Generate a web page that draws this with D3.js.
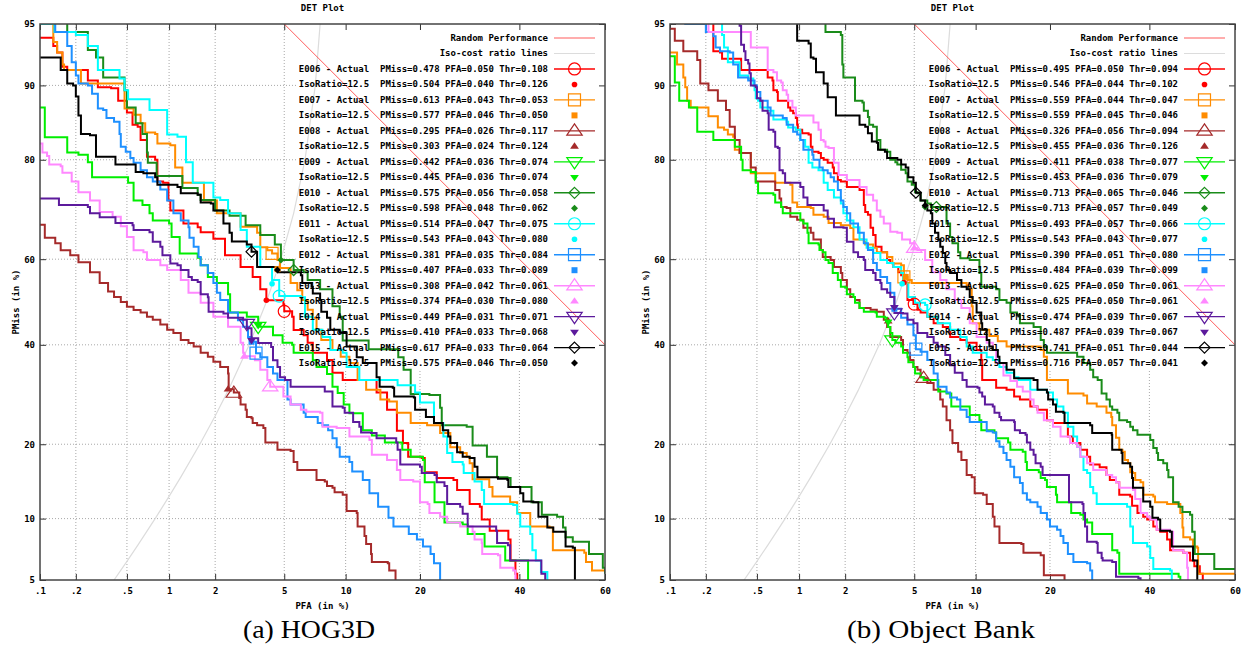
<!DOCTYPE html>
<html>
<head>
<meta charset="utf-8">
<script src="https://cdn.jsdelivr.net/npm/d3@7"></script>
<style>
  body { margin: 0; background: #fff; }
  text { white-space: pre; }
</style>
</head>
<body>
<div id="chart"></div>
<script>
// systems, colours and legend values (PMiss, PFA, Thr)
const systems = ["E006", "E007", "E008", "E009", "E010", "E011", "E012", "E013", "E014", "E015"];
const colors = ["#ff0000", "#ff8c00", "#a52a2a", "#00ee00", "#1a8c1a", "#00ffff", "#1e90ff", "#ff88ff", "#5c1a9c", "#000000"];
const shapes = ["circle", "square", "up", "down", "diamond"];

const hogActual = [[0.478, 0.050, 0.108], [0.613, 0.043, 0.053], [0.295, 0.026, 0.117], [0.442, 0.036, 0.074], [0.575, 0.056, 0.058],
  [0.514, 0.047, 0.075], [0.381, 0.035, 0.084], [0.308, 0.042, 0.061], [0.449, 0.031, 0.071], [0.617, 0.033, 0.064]];
const hogIso = [[0.504, 0.040, 0.126], [0.577, 0.046, 0.050], [0.303, 0.024, 0.124], [0.445, 0.036, 0.074], [0.598, 0.048, 0.062],
  [0.543, 0.043, 0.080], [0.407, 0.033, 0.089], [0.374, 0.030, 0.080], [0.410, 0.033, 0.068], [0.575, 0.046, 0.050]];
const obActual = [[0.495, 0.050, 0.094], [0.559, 0.044, 0.047], [0.326, 0.056, 0.094], [0.411, 0.038, 0.077], [0.713, 0.065, 0.046],
  [0.493, 0.057, 0.066], [0.390, 0.051, 0.080], [0.625, 0.050, 0.061], [0.474, 0.039, 0.067], [0.741, 0.051, 0.044]];
const obIso = [[0.546, 0.044, 0.102], [0.559, 0.045, 0.046], [0.455, 0.036, 0.126], [0.453, 0.036, 0.079], [0.713, 0.057, 0.049],
  [0.543, 0.043, 0.077], [0.484, 0.039, 0.099], [0.625, 0.050, 0.061], [0.487, 0.039, 0.067], [0.716, 0.057, 0.041]];

// axis ticks (in %)
const xTicks = [0.1, 0.2, 0.5, 1, 2, 5, 10, 20, 40, 60];
const xTickLabels = [".1", ".2", ".5", "1", "2", "5", "10", "20", "40", "60"];
const yTicks = [5, 10, 20, 40, 60, 80, 90, 95];

// reference lines [PFA %, PMiss %]
const randomLine = [[5, 95], [60, 40]];
const isoLine = [[0.4, 5], [0.5, 6.25], [0.6, 7.5], [0.8, 10], [1, 12.5], [1.2, 15], [1.6, 20], [2, 25], [2.4, 30],
  [3.2, 40], [4, 50], [4.8, 60], [5.6, 70], [6.4, 80], [7.2, 90], [7.6, 95]];

// DET curves, HOG3D: [PFA %, PMiss %]
const hogE006 = [[0.1,94.1],[0.13,94.1],[0.13,93.5],[0.14,93],[0.155,93],[0.155,91.8],[0.17,91.5],[0.25,91.5],[0.25,90.5],[0.3,90.3],[0.3,89.8],[0.38,89.7],[0.43,88.3],[0.5,86.9],[0.55,85.3],[0.6,85],[0.63,83.1],[0.7,80.5],[0.8,80],[0.83,76.2],[0.91,76],[0.99,72.6],[1.02,70.6],[1.25,67.9],[1.55,67.1],[1.62,66],[1.95,64.6],[2.3,60.9],[2.85,58.2],[3.35,55.9],[3.7,53],[4,50.4],[4.95,49.4],[5,47.8],[5.5,46.5],[5.6,43.4],[6.3,42.2],[6.6,40.5],[7,38.2],[8.2,36.6],[8.7,33.8],[9.7,32.2],[12.1,32.2],[13.6,29.6],[15,26.2],[16.4,22.3],[17.3,20.2],[18.1,18],[20.3,17.8],[20.8,15.7],[22.9,14.9],[26,14.6],[26.7,13.3],[29.2,11.6],[31.3,11.3],[31.7,9.9],[33.4,8.8],[37.5,8],[38,6.3],[39.1,5.4],[39.5,5]];
const hogE007 = [[0.13,95.5],[0.13,93.8],[0.14,93],[0.155,92],[0.16,91.5],[0.2,91.5],[0.22,90.2],[0.43,90.2],[0.48,89.5],[0.48,87.4],[0.56,86.6],[0.63,85.5],[0.68,84.2],[0.8,84],[0.83,82.6],[1.02,82.3],[1.1,78.7],[1.23,76],[1.57,76],[1.7,72.6],[1.95,72.6],[2.05,70],[2.4,70],[2.85,67.2],[3.55,65.9],[3.7,62.7],[4.05,62],[4.3,61.3],[4.6,59.8],[4.75,58],[5.4,54.5],[5.85,52.8],[6.2,50.5],[6.6,48.2],[7,46.3],[7.3,43.5],[7.7,41.1],[8.7,38.8],[9.5,37.3],[10.4,35.9],[11.3,32.2],[12.3,30.2],[14.1,28.2],[15.3,27.8],[16.4,25.6],[18.5,23.7],[21.2,23.3],[23.5,21.9],[25.4,19.5],[27.3,18.6],[28.6,18],[29.2,17],[29.8,14.7],[33.3,13.7],[34,12.5],[37.9,11.8],[39.5,10.6],[42.5,9.2],[47,9.1],[47.8,7.1],[55.2,6.9],[55.6,6.2],[57,5.6],[60,5.5]];
const hogE008 = [[0.1,67.6],[0.11,64.8],[0.135,63.6],[0.15,62],[0.18,60.9],[0.21,59.3],[0.26,57],[0.31,54.5],[0.36,52.5],[0.4,51.2],[0.45,50],[0.5,48.9],[0.56,48.1],[0.63,47.5],[0.7,46.5],[0.77,45.8],[0.87,44.7],[0.97,43.5],[1.07,42.7],[1.2,41.1],[1.35,40.4],[1.46,39.6],[1.62,38.2],[1.8,37.3],[1.95,36.2],[2.15,35],[2.4,33.6],[2.42,30.3],[2.6,29.6],[2.8,28.5],[2.85,27.2],[3.05,26.2],[3.1,24.8],[3.3,24.6],[3.35,23.7],[3.55,23.3],[3.85,22.8],[3.95,20.3],[4.45,20.3],[4.6,19.1],[5.4,18.9],[5.6,17.2],[5.85,16],[7.2,16],[7.3,14.6],[8,14.4],[8.2,13.8],[8.7,13.6],[8.9,13],[9.7,12.7],[10.1,11.6],[10.1,10.8],[11.2,10.6],[11.3,9.2],[12.1,8.3],[12.3,7.6],[12.9,6.8],[13,6.2],[15.1,6.1],[15.3,5.6],[16.2,5.4],[16.2,5]];
const hogE009 = [[0.1,87.5],[0.11,87.5],[0.11,83.5],[0.155,83.5],[0.17,81.2],[0.21,80.8],[0.25,79.6],[0.27,77],[0.4,77],[0.51,76],[0.56,72.6],[0.65,71.7],[0.73,70],[0.77,68.5],[1,67.9],[1.04,65],[1.18,61.3],[1.55,60.3],[1.62,58.6],[1.8,55.9],[2.05,54.5],[2.4,51.8],[2.47,47.5],[3.1,46.5],[3.6,44.5],[3.7,44.2],[4.35,42.2],[4.9,40.5],[5.5,40],[5.6,38.2],[7,36.5],[7.3,35],[8.2,33.5],[8.7,30.8],[9.2,29.5],[9.8,27.2],[10.4,25.5],[11.9,22.4],[13,21.5],[14.7,20.3],[17.2,19.1],[18.5,18],[20.5,17.5],[20.8,14.3],[22.5,11.8],[24.3,10.6],[24.3,9.6],[27.8,9.4],[28.8,8.5],[31.8,8.5],[32.3,7.4],[36.3,7.4],[36.8,6.3],[41.3,6.3],[42,5]];
const hogE010 = [[0.17,96],[0.17,94.5],[0.25,94.5],[0.25,93.2],[0.29,92.6],[0.33,92],[0.33,90.8],[0.44,90.8],[0.48,89.5],[0.5,87.5],[0.58,85.5],[0.65,84],[0.7,81.2],[0.71,79.5],[0.82,77.2],[1.14,77.2],[1.23,75],[1.55,73.7],[1.62,72.7],[2,70.6],[2.45,69.5],[3.05,67.5],[3.7,65.4],[4.45,63.3],[4.8,59.8],[5.6,57.5],[6.3,57],[6.6,55.2],[7.6,53],[8.7,49],[9.4,46.5],[9.7,41],[12.6,39],[16.6,37.2],[17.4,34.4],[18.5,29.3],[21.6,29.1],[23.5,26.6],[23.8,23.3],[28.6,23],[29.8,19.8],[32.8,18],[35,15],[37.3,14.9],[38,13.7],[40.7,13.7],[42.8,11.8],[45.2,10.4],[48.8,10.2],[50.2,9.1],[50.8,8.2],[52.5,7.8],[56.3,6.8],[59.5,5.8],[60,5.4]];
const hogE011 = [[0.1,95],[0.13,95],[0.133,94.5],[0.2,94.3],[0.25,93.5],[0.3,93],[0.3,91.5],[0.34,91.5],[0.44,90.7],[0.48,89.5],[0.51,88.5],[0.73,88.5],[0.73,87.2],[0.95,87.2],[0.97,83.9],[1.14,83.6],[1.3,79.6],[1.44,76],[1.8,76],[1.95,73.2],[2.15,72.7],[2.4,70],[2.85,66.5],[3.1,62.8],[3.7,58.2],[4.3,55.2],[4.7,51.4],[6.1,51.1],[6.4,46.5],[7,43.5],[7.8,41.8],[8.5,38.8],[9.7,38.2],[10.1,35],[11.5,32.2],[16.2,32.2],[16.5,31.1],[19.2,29.6],[20,27.6],[22.4,23.7],[24.1,21.3],[24.8,18.6],[25.8,17.2],[27.8,16.8],[28,15.6],[30.2,14.4],[31.7,13.3],[32.2,11.6],[38.6,11.5],[39.5,10.5],[40.2,9.2],[42.5,8.5],[43,7.1],[43.8,6.3],[45,5.5],[46.5,5]];
const hogE012 = [[0.135,96],[0.135,94.5],[0.16,94.5],[0.17,93.5],[0.185,93.4],[0.185,92.2],[0.2,91],[0.21,90.2],[0.25,90],[0.27,89.1],[0.3,87.4],[0.33,87.2],[0.35,86.2],[0.4,85.7],[0.44,84],[0.45,82.1],[0.49,81.3],[0.53,80.3],[0.56,79.5],[0.63,78.2],[0.7,77],[0.77,76.2],[0.87,74.7],[0.97,72.6],[1.07,70],[1.2,68.5],[1.35,67.1],[1.37,64.8],[1.46,62.8],[1.57,60.5],[1.62,58.6],[1.8,56.8],[1.95,54.5],[2.05,52.2],[2.15,50.5],[2.4,47.5],[2.75,45.7],[2.95,44.2],[3.15,41.8],[3.3,40.7],[3.5,38.1],[3.7,37.2],[4.05,35],[4.35,33.6],[4.6,32.2],[5.2,28.2],[5.4,27.2],[6.3,25.6],[6.45,24.8],[7.4,23.7],[7.8,23.3],[8.3,22.4],[8.7,21],[9.1,19.5],[9.4,18],[10.4,17.2],[10.7,15.8],[11.9,14.6],[12.7,12.9],[13.8,11.3],[15.2,10.1],[15.9,9.2],[18.2,8.5],[19.5,8],[20.5,7.4],[21.8,6.8],[22.4,6.1],[23.5,5]];
const hogE013 = [[0.1,82.6],[0.105,81.2],[0.115,80.6],[0.12,79.2],[0.15,78.9],[0.155,77.8],[0.185,76.2],[0.21,74.2],[0.26,72.6],[0.31,70.3],[0.38,70.3],[0.39,69.3],[0.45,67.3],[0.5,65],[0.56,62],[0.66,61.6],[0.7,59.8],[0.87,58.6],[0.97,57.5],[1.2,55.2],[1.35,52.2],[1.62,49.8],[1.95,46.5],[2.4,44.2],[2.85,40.5],[2.95,38.2],[3,37.4],[3.45,36.5],[3.7,34.4],[4.05,32.2],[4.2,30.8],[4.95,28.8],[5.4,27.2],[6.1,26.2],[6.5,25.8],[7.6,25.6],[7.8,23],[9.1,22.8],[10.4,21.3],[12.7,20.7],[13,18.3],[15,17.5],[16.4,16],[16.9,14.6],[18.9,14.4],[20,11.8],[21.3,11.6],[21.6,10.6],[23.5,10.2],[24.8,9.6],[27.3,9.2],[29.8,8.7],[30.2,8],[31.7,7.7],[31.8,6.8],[35.2,6.7],[35.7,5.8],[38.6,5.6],[39.1,5]];
const hogE014 = [[0.1,73],[0.14,73],[0.145,71.7],[0.25,71.3],[0.26,70],[0.31,69.2],[0.4,69.2],[0.41,68],[0.55,67.5],[0.56,66.5],[0.73,66],[0.77,63.9],[0.87,62.8],[0.9,60.9],[1.02,59],[1.14,58.6],[1.2,57.5],[1.35,55.9],[1.42,55.2],[1.55,54.7],[1.62,51.8],[1.8,51.1],[1.82,47.7],[2.25,47.3],[2.4,46.3],[2.95,45.8],[3.1,43.8],[3.3,41.5],[3.6,40.4],[4.25,39.5],[4.35,36.5],[4.6,35],[4.75,32.8],[5.05,32.2],[5.4,30.8],[7.8,30.8],[8,29.8],[8.7,26.8],[9.7,26.6],[9.9,25.6],[10.8,23.9],[11.5,23],[11.7,22],[12.9,21.9],[13.6,21],[16.3,20.3],[16.5,19.1],[16.9,16.8],[20,16.5],[20.3,15.6],[22.5,15.3],[22.9,14.3],[24.3,13.8],[24.8,11.6],[27.3,11.3],[27.8,10.5],[28.8,9.2],[34.8,8.8],[35,7.7],[37.4,7.5],[37.9,6.3],[44.6,6.3],[45.1,5.4],[46,5]];
const hogE015 = [[0.1,92.6],[0.145,92.6],[0.15,91.5],[0.17,90.2],[0.19,90],[0.2,88.8],[0.21,86.5],[0.22,84],[0.26,83.8],[0.29,81.6],[0.29,80.5],[0.41,80.3],[0.41,79.2],[0.58,79.2],[0.58,77.9],[0.66,77.7],[0.8,77],[0.83,75.6],[1.14,75.2],[1.2,74],[1.55,73.7],[1.62,72.2],[1.88,72],[1.95,70.6],[2.25,67.9],[2.45,65.9],[2.53,64],[3.1,63.3],[3.3,61.7],[3.55,58.2],[4.6,58],[4.65,57],[6.1,56.3],[6.2,54.5],[6.9,53.6],[7,52],[7.6,50.5],[7.7,47.7],[8.2,46.3],[8.5,43.5],[9.4,42.8],[10.1,39.6],[11.2,37.2],[11.9,35.9],[12.7,35.9],[13.6,32.8],[14,30.8],[15.8,30.6],[16,28.8],[19,28.6],[19.2,26.2],[21,24.8],[22.4,23.7],[24,22.4],[25,21.3],[25.4,20.2],[26.7,18.7],[27.8,18],[29.2,17.8],[30.2,16.5],[30.8,15],[35.2,14.8],[37.3,14.6],[37.5,13.7],[40.2,12.9],[40.9,11.9],[43.2,11.8],[44.4,10.2],[46.5,9.1],[47.9,8.7],[50.8,7.4],[52.5,7.3],[53,5]];

// DET curves, Object Bank: [PFA %, PMiss %]
const obE006 = [[0.22,96],[0.23,93.1],[0.26,93],[0.27,92.5],[0.37,92.5],[0.38,91.5],[0.58,91.5],[0.6,90.8],[0.65,90.5],[0.66,89.5],[0.7,89.3],[0.71,88.3],[0.84,87.5],[0.87,87.1],[0.91,86.8],[0.95,86.2],[0.97,85.3],[0.98,84.6],[1.05,84.1],[1.16,83.9],[1.2,82.1],[1.23,81.3],[1.35,81.1],[1.4,80.3],[1.46,80],[1.55,79.5],[1.67,78.7],[1.7,77.7],[1.8,76.5],[1.88,76.2],[2.05,75.2],[2.45,74.6],[2.6,71.7],[2.65,70.3],[2.75,69.7],[2.85,67],[2.95,65.4],[3.05,62.8],[3.3,61.6],[3.55,59.8],[3.7,59.1],[3.85,58.2],[4.1,57],[4.25,56.3],[4.4,54.6],[4.6,53],[4.6,50.5],[4.95,49.5],[5.2,48.2],[5.4,47.5],[5.85,46.5],[6.3,45],[7,44.1],[7.6,41.8],[8.5,41.1],[9.1,40.5],[10.1,38.8],[10.6,36.6],[10.7,32.2],[12.3,30.6],[13.6,30.2],[14.6,28.8],[15.4,28.2],[16.9,26.8],[18,26.2],[19.5,24.2],[20.5,23.7],[23.1,21.3],[24,20.2],[25.4,19.1],[26.7,18],[27.3,16.8],[29.2,16.4],[30.6,15.3],[31.3,14.6],[32.6,14.3],[33.3,12.7],[35.7,12.5],[36.1,11.4],[37.3,10.6],[38.6,10.2],[39.5,9.9],[40.9,9.2],[41.7,8.9],[42.5,8.7],[44.1,8],[44.8,7.1],[47.9,6.9],[49.5,6.3],[50.5,5.9],[51.8,5.4],[52.5,5]];
const obE007 = [[0.1,93],[0.115,93],[0.115,92],[0.13,91.8],[0.13,90.8],[0.135,89.8],[0.14,88.3],[0.15,87.5],[0.21,87.5],[0.21,86.4],[0.25,86.2],[0.25,84.9],[0.28,84.6],[0.3,83.9],[0.33,83.6],[0.34,81.6],[0.37,81.1],[0.44,81.1],[0.45,77.7],[0.66,77.7],[0.68,76],[0.87,75.6],[0.9,74],[0.9,72.2],[0.97,71.3],[1.2,71.1],[1.25,69.7],[1.46,69.3],[1.57,68],[1.88,67.5],[2.15,66.9],[2.25,64.4],[2.6,63.9],[2.65,63.3],[2.95,62.6],[3.1,61.6],[3.55,60.5],[3.8,59],[4.25,58.6],[4.4,55.9],[4.6,55.2],[4.85,54.5],[9.1,54],[9.4,53],[9.6,49],[9.7,45],[10.1,45],[10.4,43.5],[11.5,42],[12.5,40.8],[13.6,39.6],[14.6,39.6],[18.5,38.8],[19,37.3],[19.5,32.2],[22.2,32.2],[23.1,29.4],[26,29],[26.7,27.4],[28.6,26.8],[30.6,25.6],[31.6,24.8],[31.8,23.3],[32.6,21.1],[33.3,19.1],[34,18.8],[34.5,17.5],[35.2,17],[35.7,15.7],[36.3,15.6],[36.8,14.6],[38,14.3],[38.6,12.7],[40.9,12.5],[41.3,11.8],[44.1,11.6],[47.2,10.6],[47.7,9.1],[47.9,8.2],[49.5,8],[50.2,7.4],[51.2,7.3],[51.4,5.4],[60,5.4]];
const obE008 = [[0.1,94.7],[0.11,94.7],[0.11,93.9],[0.13,93.9],[0.13,93.1],[0.165,93.1],[0.17,92.4],[0.18,92.4],[0.18,90.2],[0.21,90.2],[0.21,89.5],[0.25,89.3],[0.25,88.3],[0.29,88],[0.29,87.2],[0.31,85],[0.33,85],[0.34,83.1],[0.37,81.1],[0.44,81.1],[0.45,78.7],[0.49,76.2],[0.66,76.2],[0.68,74.6],[0.73,73],[0.75,71.3],[0.82,71.1],[0.87,69.3],[0.97,68.7],[1.07,67],[1.2,65.9],[1.25,64.4],[1.4,62.1],[1.44,60.5],[1.62,59.8],[1.7,58.2],[1.88,56.8],[1.92,55.2],[2.05,53],[2.15,51.2],[2.3,50.5],[2.45,48.6],[2.85,48.2],[3.1,47.7],[3.4,45.8],[3.55,44.1],[3.7,41.8],[4.25,41.1],[4.35,38.8],[4.6,38.2],[4.75,36.6],[4.95,35],[5.2,34.4],[5.4,32.8],[5.65,32.6],[5.85,31.6],[6.3,30.2],[6.8,28.2],[7,26.8],[7.3,24.2],[7.6,22.4],[7.8,20.2],[8.3,18.8],[8.6,17.5],[9.1,15.3],[9.6,15],[9.9,12.9],[10.8,12.7],[11.2,11.6],[11.9,10.2],[12.1,9.2],[12.7,7.7],[15.6,7.6],[15.9,6.9],[18.5,6.7],[19,5.3],[22.5,5.2],[22.5,5]];
const obE009 = [[0.1,92.7],[0.105,92.7],[0.11,90.3],[0.12,89.5],[0.12,88.3],[0.14,88.3],[0.145,87.5],[0.17,87.4],[0.17,84.3],[0.22,84.3],[0.23,83.1],[0.33,83.1],[0.34,82.1],[0.38,80],[0.39,78.2],[0.45,77.9],[0.49,76],[0.51,74],[0.66,73.7],[0.68,72.2],[0.75,71.3],[0.77,70],[0.97,70],[1.02,68.5],[1.07,67.9],[1.14,65.9],[1.16,63.6],[1.35,63.3],[1.37,62.1],[1.44,61.6],[1.5,59.8],[1.57,59.1],[1.67,56.8],[1.8,55.2],[1.88,53.6],[2,53.4],[2.05,51.8],[2.25,51.2],[2.3,49.8],[2.45,48.6],[2.6,47.7],[3.05,47.5],[3.1,46.5],[3.45,46.3],[3.55,45.3],[3.6,44.1],[3.7,42.7],[3.8,41.1],[3.95,40.5],[4.25,39.6],[4.35,38.2],[4.6,37.2],[4.65,36.1],[4.95,35],[5.05,33.6],[5.4,32.8],[5.6,32.2],[6.4,32.2],[6.65,29.8],[7.3,29.4],[7.7,26.8],[9.1,26.8],[9.4,25.2],[10.4,24.2],[10.6,22.4],[12.1,22],[12.3,21],[13.8,20.3],[14.1,19.1],[15.8,18.8],[16.2,17.2],[16.4,16],[18.2,15.7],[18.5,14.9],[19.2,14.6],[19.5,13.7],[21,12.7],[21.2,11.8],[23.3,11.8],[23.7,10.6],[25.4,10.4],[26,9.9],[26.7,9.6],[27.7,8.5],[31.7,8.5],[31.8,7.1],[32.9,6.9],[33.3,5.4],[46.8,5.2],[47.2,5]];
const obE010 = [[1.5,96],[1.5,94.5],[1.88,94.3],[1.92,92],[1.95,90.8],[2.2,90.8],[2.3,88.3],[2.55,88.1],[2.6,87.1],[2.75,86.3],[2.8,85.3],[2.95,85],[3.1,83.1],[3.25,81.6],[3.55,81.3],[3.7,80],[3.95,79.6],[4.05,79.2],[4.25,78.3],[4.5,77.7],[4.6,76.2],[4.85,75.6],[5.05,74.2],[5.2,74],[5.4,72.6],[5.85,72],[6.1,71.3],[6.6,71.3],[7.3,67.9],[7.6,65],[7.8,63.6],[8.3,61.6],[8.5,60.2],[9.4,59.8],[10.4,56.8],[10.6,53.6],[12.3,53],[12.7,50.5],[13.6,49.8],[14.1,47.5],[15,47],[15.4,45],[17.4,44.1],[18.5,41.1],[19,39.6],[19.5,38.2],[24.8,37.3],[26,35.9],[27.3,34.4],[27.9,32.8],[28.8,32.2],[29.6,29.4],[30.6,28.2],[31.3,26.8],[31.8,26.2],[32.9,25.6],[33.3,24.2],[35,23.9],[35.7,23],[36.3,22.4],[37.3,21.6],[40.2,20.7],[40.9,19.4],[41.7,18.6],[42,17.5],[43.2,17],[44.1,16],[44.4,15],[45.5,14.2],[45.5,11.8],[46.8,11.3],[47.7,10.7],[49.5,10.4],[50,8.7],[50.6,6.8],[54.8,6.8],[55.2,5.7],[60,5.7]];
const obE011 = [[0.27,96],[0.27,94.3],[0.28,93.4],[0.3,92.2],[0.34,92.2],[0.37,91],[0.43,90.7],[0.47,90],[0.48,89.5],[0.49,88.6],[0.51,88.3],[0.53,87.5],[0.6,87.1],[0.66,86],[0.82,85.7],[0.84,84.9],[0.95,84.6],[1.02,83.1],[1.1,82.1],[1.16,79.5],[1.23,78.7],[1.35,78.2],[1.46,76],[1.55,74.6],[1.7,73.2],[1.88,72],[1.95,70],[2.05,68.5],[2.25,67.1],[2.45,64.4],[2.7,62.6],[2.95,61.4],[3.25,59.8],[3.55,59.1],[3.85,58.2],[4.25,56.8],[4.35,54.5],[4.65,51.2],[5.05,49.8],[5.7,49.3],[5.85,46.5],[6.6,45],[7.6,43.5],[8.5,41.8],[9.1,39.6],[9.7,38.2],[11.2,37.2],[11.9,36.6],[12.7,35],[13.6,33.8],[14.6,32.8],[15.2,32.2],[16.9,30.2],[19.5,29.6],[20.5,28.2],[21.2,26.8],[22.3,25.6],[23.1,23],[24.1,21.3],[24.8,19.6],[25.4,18],[26,16],[26.7,15.6],[27.3,13.7],[27.9,12.9],[28.6,11.6],[35,11.3],[35.7,9.2],[36.3,7.7],[39.5,7.4],[40.2,6.5],[40.9,5.7],[44.8,5.6],[45.2,5]];
const obE012 = [[0.135,95.5],[0.135,95],[0.2,95],[0.2,94.5],[0.23,94.2],[0.24,93.4],[0.26,93.1],[0.31,93],[0.33,92],[0.36,90.8],[0.43,90.5],[0.48,90],[0.5,89.3],[0.53,88.3],[0.6,87.5],[0.63,86.5],[0.77,86.2],[0.82,85.3],[0.91,84.3],[0.97,83.9],[1.02,83.1],[1.07,81.6],[1.23,80.8],[1.25,80],[1.37,78.7],[1.44,78.2],[1.55,77.7],[1.62,77],[1.7,76.2],[1.8,74.6],[1.88,72.6],[1.95,71.3],[2.05,70],[2.15,67.9],[2.4,65.9],[2.6,63.6],[2.75,62.1],[2.95,59.1],[3.1,57.5],[3.25,55.9],[3.55,54.5],[3.7,52.2],[3.9,48.4],[4.25,46.3],[4.6,44.7],[4.95,42.2],[5.1,39],[5.4,38.4],[5.85,36.6],[6.3,33.6],[6.6,30.8],[7.3,29.6],[7.6,28.6],[8.2,28.2],[8.5,26.2],[9.1,24.8],[9.4,23.9],[11.2,22.2],[11.9,22],[12.3,20.5],[12.7,19.6],[13.2,18.6],[13.6,17.5],[14.1,16.5],[14.6,15],[15.4,14.2],[15.8,12.9],[16.4,12.1],[16.9,11.8],[18,11.3],[18.5,10.6],[19.5,9.9],[20,9.2],[21.2,8.9],[21.8,8.3],[22.3,7.7],[23.1,6.8],[24.1,6.2],[26.7,6.1],[27.3,5.6],[27.7,5]];
const obE013 = [[0.21,95.5],[0.21,94.5],[0.44,94.5],[0.45,93.4],[0.58,93.4],[0.6,91.5],[0.66,91.3],[0.7,90.5],[0.75,90.3],[0.77,89.5],[0.82,89],[0.84,88.3],[0.9,87.5],[0.95,86.5],[1.2,86.5],[1.25,85.6],[1.35,84.6],[1.4,83.1],[1.46,82.9],[1.5,82.1],[1.57,81.9],[1.7,79.5],[1.82,77.4],[2.05,76.5],[2.45,75.2],[2.7,73.7],[2.95,72.6],[3.1,70.6],[3.25,69.3],[3.4,67.9],[3.7,66.1],[4.05,65.9],[4.3,64.4],[4.75,63.6],[5,62.5],[5.2,62.1],[5.7,59.8],[6.2,57],[6.8,55.2],[7.3,53],[8,50.5],[8.6,48.6],[9.4,45],[10.1,41.8],[11.2,40.5],[11.9,38.8],[12.3,35.9],[13.2,33.2],[14.1,32],[15,30.8],[15.8,29.8],[16.9,28.2],[17.4,26.8],[18,25.6],[19,24.2],[20.5,23],[21.8,21.3],[23.5,20.2],[24.8,19.6],[25.4,18],[26.7,17],[27.9,16],[30.6,15.3],[31.8,15],[32.6,14.3],[33.3,13.6],[36.3,13.3],[36.8,12.2],[38,10.6],[39.5,10.2],[40.2,9.9],[41.7,8.9],[44.8,8.7],[45.5,7.1],[47.9,6.9],[48.8,5.8],[49,5]];
const obE014 = [[0.33,95.5],[0.37,94.9],[0.38,93.6],[0.4,93.1],[0.41,92.4],[0.43,92.1],[0.44,91.2],[0.45,90],[0.49,89.8],[0.5,88.6],[0.53,88.3],[0.55,87.1],[0.6,86.8],[0.61,84.6],[0.66,84.3],[0.68,82.1],[0.71,81.9],[0.73,78.2],[0.77,77.7],[0.8,76],[1.02,75.2],[1.07,73.2],[1.14,71.7],[1.46,70.6],[1.55,68.9],[1.7,67.1],[1.95,67],[2.05,63.9],[2.25,61.6],[2.4,60.5],[2.6,59.8],[2.65,57.5],[2.95,56.8],[3.05,55.2],[3.25,54.5],[3.3,53],[3.55,52.2],[3.7,51.2],[3.9,48.7],[3.9,47.4],[4.35,47.3],[4.6,45.8],[4.95,45],[5.2,42.7],[5.85,41.8],[6.3,40.5],[6.6,39.6],[7.2,37.7],[7.6,35.4],[8,33.8],[8.7,32.2],[9.1,30.8],[10.2,30.6],[10.4,29.6],[10.7,28.8],[11,27.2],[11.9,26.8],[12.1,25.6],[12.7,24.8],[12.9,24.2],[14.6,23.9],[14.7,22.4],[15.4,21.9],[16.2,21.6],[16.4,20.3],[16.9,19.1],[17.4,18.3],[17.7,17],[18.5,16.5],[18.8,15.3],[23.1,15.3],[23.3,11.8],[25.8,11.6],[26,10.6],[26.3,9.2],[26.7,7.8],[28.6,7.7],[28.8,6.9],[29.6,6.5],[29.8,6.3],[31.8,6.2],[32.6,5.2],[37.5,5.1],[38,5]];
const obE015 = [[0.97,95.5],[0.97,93.9],[1.16,93.7],[1.2,92.6],[1.25,92.5],[1.3,91.3],[1.44,91.3],[1.46,90.2],[1.55,89.8],[1.55,88.7],[1.7,88.7],[1.75,86.5],[2.4,86.5],[2.45,85.3],[2.65,85],[2.75,84.1],[2.9,82.9],[3.1,82.7],[3.15,81.6],[3.45,81.3],[3.55,80.3],[4.05,80],[4.25,79.2],[4.5,78.7],[4.65,77],[4.95,76],[5.1,74.1],[5.4,72.6],[5.7,71.6],[5.85,70.6],[6.1,70],[6.2,67.9],[6.4,65.9],[6.65,64.4],[6.8,62.8],[7,61.4],[7.2,59.1],[7.3,57.5],[7.6,56.8],[8.2,55.2],[8.6,53.6],[9.1,53],[9.4,51.2],[9.7,49.8],[10.1,47.5],[10.6,45],[10.7,43.5],[11.2,41.1],[11.5,39.6],[11.9,38.8],[12.5,37.3],[12.7,35.9],[13.6,34.4],[14.6,32.6],[17.4,32.2],[18,30.2],[19.5,29.6],[19.7,28.2],[20.5,27.2],[21,25.8],[22.3,25.6],[22.5,23.7],[27.3,23.3],[27.7,21.9],[31.7,21.6],[31.8,19.1],[33.8,18.6],[34,17],[35.7,16.5],[36.1,14.9],[36.3,13.6],[38.4,13.6],[38.6,11.9],[40.2,11.3],[40.7,10.1],[42,9.9],[42.5,8.8],[44.8,8.7],[45.2,7.4],[50,7.4],[50.2,6.3],[51.2,6.1],[51.2,5]];

const hogCurves = [hogE006, hogE007, hogE008, hogE009, hogE010, hogE011, hogE012, hogE013, hogE014, hogE015];
const obCurves = [obE006, obE007, obE008, obE009, obE010, obE011, obE012, obE013, obE014, obE015];

// inverse normal CDF (DET axes are normal-deviate scaled)
function probit(p) {
  const a = [-3.969683028665376e+01, 2.209460984245205e+02, -2.759285104469687e+02, 1.383577518672690e+02, -3.066479806614716e+01, 2.506628277459239e+00];
  const b = [-5.447609879822406e+01, 1.615858368580409e+02, -1.556989798598866e+02, 6.680131188771972e+01, -1.328068155288572e+01];
  const c = [-7.784894002430293e-03, -3.223964580411365e-01, -2.400758277161838e+00, -2.549732539343734e+00, 4.374664141464968e+00, 2.938163982698783e+00];
  const d = [7.784695709041462e-03, 3.224671290700398e-01, 2.445134137142996e+00, 3.754408661907416e+00];
  const pl = 0.02425;
  let q, r;
  if (p < pl) {
    q = Math.sqrt(-2 * Math.log(p));
    return (((((c[0]*q+c[1])*q+c[2])*q+c[3])*q+c[4])*q+c[5]) / ((((d[0]*q+d[1])*q+d[2])*q+d[3])*q+1);
  }
  if (p <= 1 - pl) {
    q = p - 0.5; r = q * q;
    return (((((a[0]*r+a[1])*r+a[2])*r+a[3])*r+a[4])*r+a[5])*q / (((((b[0]*r+b[1])*r+b[2])*r+b[3])*r+b[4])*r+1);
  }
  q = Math.sqrt(-2 * Math.log(1 - p));
  return -(((((c[0]*q+c[1])*q+c[2])*q+c[3])*q+c[4])*q+c[5]) / ((((d[0]*q+d[1])*q+d[2])*q+d[3])*q+1);
}

function markerPath(shape, s) {
  switch (shape) {
    case "circle": return `M${s},0A${s},${s} 0 1,1 ${-s},0A${s},${s} 0 1,1 ${s},0Z`;
    case "square": return `M${-s},${-s}H${s}V${s}H${-s}Z`;
    case "up": return `M0,${-s}L${s*1.1},${s*0.6}L${-s*1.1},${s*0.6}Z`;
    case "down": return `M0,${s}L${s*1.1},${-s*0.6}L${-s*1.1},${-s*0.6}Z`;
    default: return `M0,${-s}L${s},0L0,${s}L${-s},0Z`;
  }
}
const hollowSize = {circle: 6, square: 6, up: 7, down: 7, diamond: 5.5};
const filledSize = {circle: 2.8, square: 3, up: 4, down: 4, diamond: 3.5};

const width = 1244, height = 650;
const plotTop = 24, plotBottom = 580;
const monoFont = "DejaVu Sans Mono, monospace";
const fmt = d3.format(".3f");

const svg = d3.select("#chart").append("svg")
  .attr("width", width)
  .attr("height", height)
  .style("font-family", monoFont);

svg.append("rect").attr("width", width).attr("height", height).attr("fill", "#fff");

const panels = [
  {id: "hog", x0: 40, x1: 605, caption: "(a) HOG3D", capX: 309, capW: 132, curves: hogCurves, actual: hogActual, iso: hogIso},
  {id: "ob", x0: 670, x1: 1235, caption: "(b) Object Bank", capX: 941, capW: 188, curves: obCurves, actual: obActual, iso: obIso}
];

panels.forEach(p => {
  const xs = d3.scaleLinear().domain([probit(0.001), probit(0.6)]).range([p.x0, p.x1]);
  const ys = d3.scaleLinear().domain([probit(0.95), probit(0.05)]).range([plotTop, plotBottom]);
  const X = v => xs(probit(v / 100));
  const Y = v => ys(probit(v / 100));
  const keyLeft = p.x1 - 309;
  const keyBottom = 371;
  const cx = (p.x0 + p.x1) / 2;

  const g = svg.append("g");

  // grid (left out behind the key block, as in the original)
  const grid = g.append("g")
    .attr("stroke", "#a8a8a8")
    .attr("stroke-width", 1)
    .attr("stroke-dasharray", "1,2");
  xTicks.slice(1, -1).forEach(t => {
    const x = X(t);
    grid.append("line")
      .attr("x1", x).attr("x2", x)
      .attr("y1", x > keyLeft ? keyBottom : plotTop).attr("y2", plotBottom);
  });
  yTicks.slice(1, -1).forEach(t => {
    const y = Y(t);
    grid.append("line")
      .attr("x1", p.x0).attr("x2", y < keyBottom ? keyLeft : p.x1)
      .attr("y1", y).attr("y2", y);
  });

  // axes: inward ticks, mirrored on top / right
  const xVals = xTicks.map(t => probit(t / 100));
  const yVals = yTicks.map(t => probit(t / 100));
  const styleAxis = sel => {
    sel.select(".domain").remove();
    sel.selectAll(".tick line").attr("stroke", "#333").attr("stroke-width", 1);
    sel.selectAll(".tick text")
      .attr("fill", "#000")
      .style("font-family", monoFont)
      .style("font-size", "9px")
      .style("font-weight", "bold");
  };
  g.append("g").attr("transform", `translate(0,${plotBottom})`)
    .call(d3.axisBottom(xs).tickValues(xVals).tickSize(-6).tickPadding(8).tickFormat((d, i) => xTickLabels[i]))
    .call(styleAxis);
  g.append("g").attr("transform", `translate(0,${plotTop})`)
    .call(d3.axisTop(xs).tickValues(xVals).tickSize(-6).tickFormat(""))
    .call(styleAxis);
  g.append("g").attr("transform", `translate(${p.x0},0)`)
    .call(d3.axisLeft(ys).tickValues(yVals).tickSize(-6).tickPadding(5).tickFormat((d, i) => yTicks[i]))
    .call(styleAxis);
  g.append("g").attr("transform", `translate(${p.x1},0)`)
    .call(d3.axisRight(ys).tickValues(yVals).tickSize(-6).tickFormat(""))
    .call(styleAxis);

  const clipId = "clip-" + p.id;
  svg.append("clipPath").attr("id", clipId)
    .append("rect").attr("x", p.x0).attr("y", plotTop).attr("width", p.x1 - p.x0).attr("height", plotBottom - plotTop);

  const plot = g.append("g").attr("clip-path", `url(#${clipId})`);

  const line = d3.line().x(d => X(d[0])).y(d => Y(d[1]));

  plot.append("path").datum(isoLine)
    .attr("d", line)
    .attr("fill", "none").attr("stroke", "#dcdcdc").attr("stroke-width", 1.2);
  plot.append("path").datum(randomLine)
    .attr("d", line)
    .attr("fill", "none").attr("stroke", "#ff4040").attr("stroke-width", 1).attr("opacity", 0.85);

  const stepLine = d3.line().x(d => X(d[0])).y(d => Y(d[1])).curve(d3.curveStepAfter);
  plot.selectAll("path.det")
    .data(p.curves)
    .join("path")
    .attr("class", "det")
    .attr("d", stepLine)
    .attr("fill", "none")
    .attr("stroke", (d, i) => colors[i])
    .attr("stroke-width", 2)
    .attr("stroke-linejoin", "miter");

  // operating points
  p.actual.forEach((a, i) => {
    const sh = shapes[i % 5];
    plot.append("path")
      .attr("d", markerPath(sh, hollowSize[sh]))
      .attr("transform", `translate(${X(a[1] * 100)},${Y(a[0] * 100)})`)
      .attr("fill", "none").attr("stroke", colors[i]).attr("stroke-width", 1.2);
  });
  p.iso.forEach((a, i) => {
    const sh = shapes[i % 5];
    plot.append("path")
      .attr("d", markerPath(sh, filledSize[sh]))
      .attr("transform", `translate(${X(a[1] * 100)},${Y(a[0] * 100)})`)
      .attr("fill", colors[i]);
  });

  // frame
  g.append("rect")
    .attr("x", p.x0).attr("y", plotTop)
    .attr("width", p.x1 - p.x0).attr("height", plotBottom - plotTop)
    .attr("fill", "none").attr("stroke", "#444").attr("stroke-width", 1.5);

  // key
  const rows = [];
  rows.push({label: "Random Performance", color: "#ff4040", kind: "random"});
  rows.push({label: "Iso-cost ratio lines", color: "#dcdcdc", kind: "iso"});
  systems.forEach((s, i) => {
    const a = p.actual[i], b = p.iso[i];
    rows.push({label: `${s} - Actual  PMiss=${fmt(a[0])} PFA=${fmt(a[1])} Thr=${fmt(a[2])}`, color: colors[i], kind: "actual", shape: shapes[i % 5]});
    rows.push({label: `IsoRatio=12.5  PMiss=${fmt(b[0])} PFA=${fmt(b[1])} Thr=${fmt(b[2])}`, color: colors[i], kind: "isopt", shape: shapes[i % 5]});
  });
  const key = g.append("g");
  rows.forEach((r, i) => {
    const y = 38 + i * 15.48;
    key.append("text")
      .attr("x", p.x1 - 57).attr("y", y + 3)
      .attr("text-anchor", "end")
      .style("font-size", "9px").style("font-weight", "bold")
      .text(r.label);
    const mx = p.x1 - 30.5;
    if (r.kind !== "isopt") {
      key.append("line")
        .attr("x1", p.x1 - 51).attr("x2", p.x1 - 10)
        .attr("y1", y).attr("y2", y)
        .attr("stroke", r.color)
        .attr("stroke-width", r.kind === "actual" ? 1.4 : 1.2)
        .attr("opacity", r.kind === "random" ? 0.85 : 1);
    }
    if (r.kind === "actual") {
      key.append("path")
        .attr("d", markerPath(r.shape, hollowSize[r.shape]))
        .attr("transform", `translate(${mx},${y})`)
        .attr("fill", "none").attr("stroke", r.color).attr("stroke-width", 1.2);
    } else if (r.kind === "isopt") {
      key.append("path")
        .attr("d", markerPath(r.shape, filledSize[r.shape]))
        .attr("transform", `translate(${mx},${y})`)
        .attr("fill", r.color);
    }
  });

  // titles
  g.append("text")
    .attr("x", cx).attr("y", 11)
    .attr("text-anchor", "middle")
    .style("font-size", "9px").style("font-weight", "bold")
    .text("DET Plot");
  g.append("text")
    .attr("x", cx).attr("y", 609)
    .attr("text-anchor", "middle")
    .style("font-size", "9px").style("font-weight", "bold")
    .text("PFA (in %)");
  g.append("text")
    .attr("transform", `translate(${p.x0 - 24},${(plotTop + plotBottom) / 2}) rotate(-90)`)
    .attr("text-anchor", "middle")
    .attr("dominant-baseline", "central")
    .style("font-size", "9px").style("font-weight", "bold")
    .text("PMiss (in %)");

  g.append("text")
    .attr("x", p.capX).attr("y", 638)
    .attr("text-anchor", "middle")
    .attr("textLength", p.capW)
    .attr("lengthAdjust", "spacingAndGlyphs")
    .style("font-family", "Liberation Serif, serif")
    .style("font-size", "26px")
    .text(p.caption);
});
</script>
</body>
</html>
